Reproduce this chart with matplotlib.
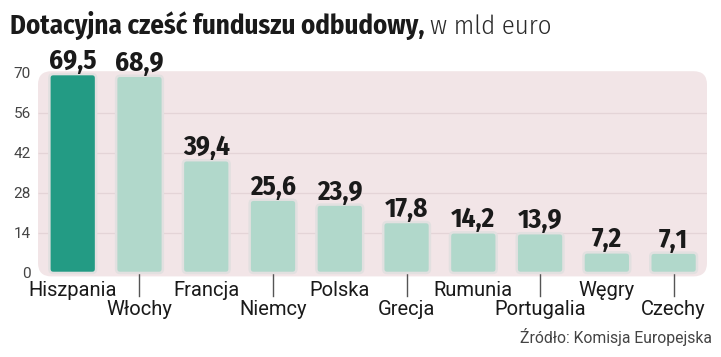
import numpy as np
import matplotlib
matplotlib.use('Agg')
import matplotlib.pyplot as plt
from matplotlib.patches import FancyBboxPatch
from matplotlib.lines import Line2D
from matplotlib import transforms

countries = ['Hiszpania', 'Włochy', 'Francja', 'Niemcy', 'Polska',
             'Grecja', 'Rumunia', 'Portugalia', 'Węgry', 'Czechy']
values = [69.5, 68.9, 39.4, 25.6, 23.9, 17.8, 14.2, 13.9, 7.2, 7.1]
y_ticks = [0, 14, 28, 42, 56, 70]
highlight = 'Hiszpania'

title_bold = 'Dotacyjna cześć funduszu odbudowy,'
title_light = 'w mld euro'
source = 'Źródło: Komisja Europejska'

cond = ['Fira Sans Condensed', 'DejaVu Sans']
body = ['Roboto', 'DejaVu Sans']

W, H = 721, 357
fig = plt.figure(figsize=(W / 100, H / 100), dpi=100)
ax = fig.add_axes([38 / W, 1 - 276.4 / H, 669 / W, 205.2 / H])
ax.set_xlim(-0.52, 9.5)
ax.set_ylim(-1.2, 70.5)

# rounded pink panel behind the bars
panel = FancyBboxPatch((0, 0), 1, 1, boxstyle='round,pad=0,rounding_size=0.02',
                       mutation_aspect=669 / 205.2, transform=ax.transAxes,
                       fc='#f2e5e7', ec='none', zorder=0, clip_on=False)
ax.add_patch(panel)
ax.hlines(y_ticks[1:-1], -0.52, 9.5, colors='#e4d4d7', lw=0.9, zorder=1)

x = np.arange(len(countries))
colors = ['#239b84' if c == highlight else '#b1d8cb' for c in countries]
bars = ax.bar(x, values, width=0.7, color=colors)
for b, c in zip(bars, colors):
    b.set_visible(False)
    rb = FancyBboxPatch((b.get_x(), b.get_y()), b.get_width(), b.get_height(),
                        boxstyle='round,pad=0,rounding_size=0.06',
                        mutation_aspect=66.8 / 2.863,
                        fc=c, ec='#e2e0e0', lw=1.8, zorder=3)
    ax.add_patch(rb)

for i, v in enumerate(values):
    ax.annotate(f'{v:.1f}'.replace('.', ','), (i, v), xytext=(0, 3.6),
                textcoords='offset points', ha='center', va='baseline',
                fontsize=19.5, fontweight='bold', family=cond, color='#1a1a1a')

for s in ax.spines.values():
    s.set_visible(False)
ax.set_xticks([])
ax.set_yticks(y_ticks)
ax.set_yticklabels([str(t) for t in y_ticks], family=body, fontsize=11,
                   color='#444444')
ax.tick_params(axis='y', length=0, pad=5)

# staggered country names, second row with a small leader line
tr = transforms.blended_transform_factory(ax.transData, fig.transFigure)
for i, name in enumerate(countries):
    if i % 2 == 0:
        ax.text(i, 1 - 296 / H, name, transform=tr, ha='center', va='baseline',
                fontsize=14.5, family=body, color='#1a1a1a')
    else:
        ax.text(i, 1 - 315 / H, name, transform=tr, ha='center', va='baseline',
                fontsize=14.5, family=body, color='#1a1a1a')
        ax.add_line(Line2D([i, i], [1 - 274 / H, 1 - 296 / H], transform=tr,
                           color='#555555', lw=1, clip_on=False))

t1 = fig.text(10 / W, 1 - 34 / H, title_bold, fontsize=19.3, fontweight='bold',
              family=cond, color='#1a1a1a', va='baseline')
fig.canvas.draw()
bb = t1.get_window_extent()
fig.text((bb.x1 + 6) / W, 1 - 34 / H, title_light, fontsize=19.3, fontweight=300,
         family=cond, color='#2a2a2a', va='baseline')

fig.text(712 / W, 1 - 343 / H, source, fontsize=11.3, family=body,
         color='#444444', ha='right', va='baseline')

fig.savefig('out.png', dpi=100)
